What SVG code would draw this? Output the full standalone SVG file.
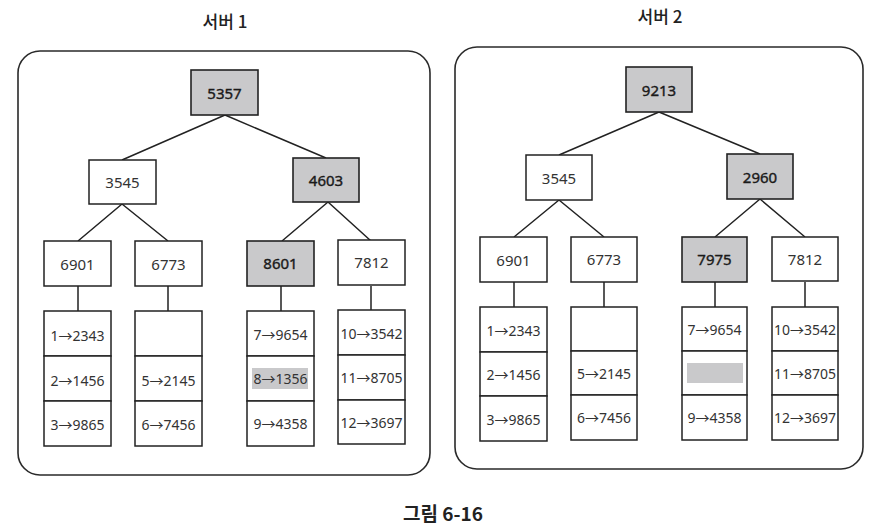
<svg xmlns="http://www.w3.org/2000/svg" width="884" height="532" viewBox="0 0 884 532">
<style>
  .panel { fill: none; stroke: #2a2a2a; stroke-width: 1.6; }
  .box { fill: #ffffff; stroke: #222; stroke-width: 1.5; }
  .hl { fill: #c9c9cb; stroke: #222; stroke-width: 1.6; }
  .mark { fill: #c9c9cb; stroke: none; }
  .edge { stroke: #222; stroke-width: 1.5; fill: none; }
  .t { font-family: "Noto Sans", "Open Sans", "Noto Sans CJK KR", sans-serif; font-size: 15px; fill: #333; text-anchor: middle; dominant-baseline: central; }
  .tb { fill: #1a1a1a; stroke: #1a1a1a; stroke-width: 0.4; }
  .d { font-family: "Noto Sans", "Open Sans", "Noto Sans CJK KR", sans-serif; font-size: 14px; fill: #333; text-anchor: middle; dominant-baseline: central; }
  .title { font-family: "Noto Sans CJK KR", "Noto Sans", sans-serif; font-size: 17px; font-weight: 500; fill: #222; text-anchor: middle; }
  .cap { font-family: "Noto Sans CJK KR", "Noto Sans", sans-serif; font-size: 19px; font-weight: bold; fill: #222; text-anchor: middle; }
</style>
<rect width="884" height="532" fill="#ffffff"/>

<text class="title" x="225" y="28">서버 1</text>
<text class="title" x="660" y="23">서버 2</text>
<text class="cap" x="443" y="521">그림 6-16</text>

<rect id="server1" class="panel" x="18" y="51" width="412" height="424" rx="22"/>
<rect id="server2" class="panel" x="455" y="47" width="408" height="422" rx="22"/>

<g id="connectors">
  <path class="edge" d="M225 115 L122 160 M225 115 L326 158"/>
  <path class="edge" d="M122 204 L78 241 M122 204 L168 241"/>
  <path class="edge" d="M328 202 L282 241 M328 202 L371 241"/>
  <path class="edge" d="M78 286 V311 M168 286 V311 M281 286 V311 M371 286 V311"/>
  <path class="edge" d="M659 112 L559 155 M659 112 L760 154"/>
  <path class="edge" d="M559 200 L514 237 M559 200 L604 237"/>
  <path class="edge" d="M760 199 L715 237 M760 199 L805 237"/>
  <path class="edge" d="M514 282 V307 M604 282 V307 M715 282 V307 M805 282 V307"/>
</g>

<!-- Server 1 -->
<g id="s1-5357"><rect class="hl" x="191" y="70" width="67" height="45"/><text class="t tb" x="224.5" y="93">5357</text></g>
<g id="s1-3545"><rect class="box" x="89" y="160" width="67" height="44"/><text class="t" x="122.5" y="182">3545</text></g>
<g id="s1-4603"><rect class="hl" x="293" y="158" width="66" height="44"/><text class="t tb" x="326" y="180">4603</text></g>
<g id="s1-6901"><rect class="box" x="44" y="241" width="67" height="45"/><text class="t" x="77.5" y="264">6901</text></g>
<g id="s1-6773"><rect class="box" x="135" y="241" width="67" height="45"/><text class="t" x="168.5" y="264">6773</text></g>
<g id="s1-8601"><rect class="hl" x="247" y="241" width="67" height="45"/><text class="t tb" x="280.5" y="263">8601</text></g>
<g id="s1-7812"><rect class="box" x="338" y="240" width="67" height="45"/><text class="t" x="371.5" y="262">7812</text></g>

<g id="s1-data-6901">
  <rect class="box" x="44" y="311" width="67" height="45"/><rect class="box" x="44" y="356" width="67" height="45"/><rect class="box" x="44" y="401" width="67" height="45"/>
  <text class="d" x="77.5" y="335">1→2343</text><text class="d" x="77.5" y="380">2→1456</text><text class="d" x="77.5" y="424">3→9865</text>
</g>
<g id="s1-data-6773">
  <rect class="box" x="135" y="311" width="67" height="45"/><rect class="box" x="135" y="356" width="67" height="45"/><rect class="box" x="135" y="401" width="67" height="45"/>
  <text class="d" x="168.5" y="380">5→2145</text><text class="d" x="168.5" y="424">6→7456</text>
</g>
<g id="s1-data-8601">
  <rect class="box" x="247" y="311" width="67" height="45"/><rect class="box" x="247" y="356" width="67" height="45"/><rect class="box" x="247" y="401" width="67" height="45"/>
  <rect class="mark" x="252" y="368" width="56" height="21"/>
  <text class="d" x="280.5" y="334">7→9654</text><text class="d" x="280.5" y="378">8→1356</text><text class="d" x="280.5" y="423">9→4358</text>
</g>
<g id="s1-data-7812">
  <rect class="box" x="338" y="310" width="67" height="45"/><rect class="box" x="338" y="355" width="67" height="45"/><rect class="box" x="338" y="400" width="67" height="44"/>
  <text class="d" x="371.5" y="333">10→3542</text><text class="d" x="371.5" y="377">11→8705</text><text class="d" x="371.5" y="422">12→3697</text>
</g>

<!-- Server 2 -->
<g id="s2-9213"><rect class="hl" x="626" y="67" width="66" height="45"/><text class="t tb" x="659" y="90">9213</text></g>
<g id="s2-3545"><rect class="box" x="526" y="155" width="66" height="45"/><text class="t" x="559" y="178">3545</text></g>
<g id="s2-2960"><rect class="hl" x="727" y="154" width="66" height="45"/><text class="t tb" x="760" y="177">2960</text></g>
<g id="s2-6901"><rect class="box" x="480" y="237" width="67" height="45"/><text class="t" x="513.5" y="260">6901</text></g>
<g id="s2-6773"><rect class="box" x="571" y="237" width="66" height="45"/><text class="t" x="604" y="259">6773</text></g>
<g id="s2-7975"><rect class="hl" x="682" y="237" width="65" height="45"/><text class="t tb" x="714.5" y="259">7975</text></g>
<g id="s2-7812"><rect class="box" x="772" y="237" width="66" height="44"/><text class="t" x="805" y="259">7812</text></g>

<g id="s2-data-6901">
  <rect class="box" x="480" y="307" width="67" height="45"/><rect class="box" x="480" y="352" width="67" height="44"/><rect class="box" x="480" y="396" width="67" height="45"/>
  <text class="d" x="513.5" y="330">1→2343</text><text class="d" x="513.5" y="374">2→1456</text><text class="d" x="513.5" y="419">3→9865</text>
</g>
<g id="s2-data-6773">
  <rect class="box" x="571" y="307" width="66" height="44"/><rect class="box" x="571" y="351" width="66" height="44"/><rect class="box" x="571" y="395" width="66" height="45"/>
  <text class="d" x="604" y="373">5→2145</text><text class="d" x="604" y="417">6→7456</text>
</g>
<g id="s2-data-7975">
  <rect class="box" x="682" y="307" width="65" height="44"/><rect class="box" x="682" y="351" width="65" height="44"/><rect class="box" x="682" y="395" width="65" height="45"/>
  <rect class="mark" x="687" y="363" width="56" height="20"/>
  <text class="d" x="714.5" y="329">7→9654</text><text class="d" x="714.5" y="417">9→4358</text>
</g>
<g id="s2-data-7812">
  <rect class="box" x="772" y="307" width="66" height="44"/><rect class="box" x="772" y="351" width="66" height="44"/><rect class="box" x="772" y="395" width="66" height="45"/>
  <text class="d" x="805" y="329">10→3542</text><text class="d" x="805" y="373">11→8705</text><text class="d" x="805" y="417">12→3697</text>
</g>
</svg>
